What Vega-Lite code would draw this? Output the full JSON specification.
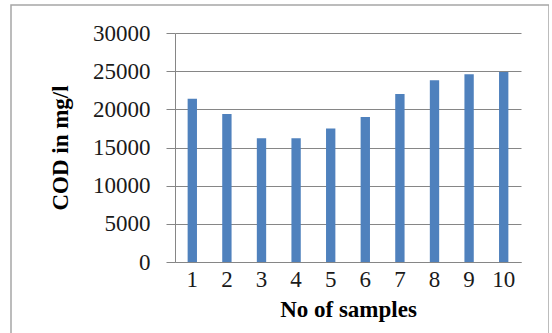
{
  "$schema": "https://vega.github.io/schema/vega-lite/v6.json",
  "autosize": {"type": "none"},
  "padding": {"left": 11, "top": 5, "right": 0, "bottom": 0},
  "width": 538,
  "height": 335,
  "background": "#ffffff",
  "data": {
    "values": [
      {"sample": "1", "cod": 21400},
      {"sample": "2", "cod": 19400},
      {"sample": "3", "cod": 16200},
      {"sample": "4", "cod": 16200},
      {"sample": "5", "cod": 17500},
      {"sample": "6", "cod": 19000},
      {"sample": "7", "cod": 22000},
      {"sample": "8", "cod": 23800},
      {"sample": "9", "cod": 24600},
      {"sample": "10", "cod": 24900}
    ]
  },
  "mark": {"type": "bar", "color": "#4f81bd"},
  "encoding": {
    "x": {
      "field": "sample",
      "type": "ordinal",
      "sort": null,
      "scale": {"range": [164, 510], "paddingInner": 0.73, "paddingOuter": 0.365},
      "axis": {
        "title": "No of samples",
        "orient": "bottom",
        "offset": -78,
        "labelAngle": 0,
        "ticks": false,
        "domain": true,
        "domainColor": "#868686",
        "domainWidth": 1,
        "grid": false,
        "labelFont": "Liberation Serif",
        "labelFontSize": 23,
        "labelColor": "#1a1a1a",
        "labelPadding": 6,
        "titleFont": "Liberation Serif",
        "titleFontSize": 23,
        "titleFontWeight": "bold",
        "titleColor": "#000000",
        "titlePadding": 7
      }
    },
    "y": {
      "field": "cod",
      "type": "quantitative",
      "scale": {"domain": [0, 30000], "range": [257, 28], "nice": false},
      "axis": {
        "title": "COD in mg/l",
        "offset": -164,
        "values": [0, 5000, 10000, 15000, 20000, 25000, 30000],
        "format": "d",
        "grid": true,
        "gridColor": "#868686",
        "gridWidth": 1,
        "domain": true,
        "domainColor": "#868686",
        "ticks": true,
        "tickSize": 9,
        "tickColor": "#868686",
        "labelFont": "Liberation Serif",
        "labelFontSize": 23,
        "labelColor": "#1a1a1a",
        "labelPadding": 16,
        "titleFont": "Liberation Serif",
        "titleFontSize": 23,
        "titleFontWeight": "bold",
        "titleColor": "#000000",
        "titlePadding": 20
      }
    }
  },
  "config": {
    "view": {"stroke": "#a6a6a6", "strokeWidth": 1.5}
  }
}
